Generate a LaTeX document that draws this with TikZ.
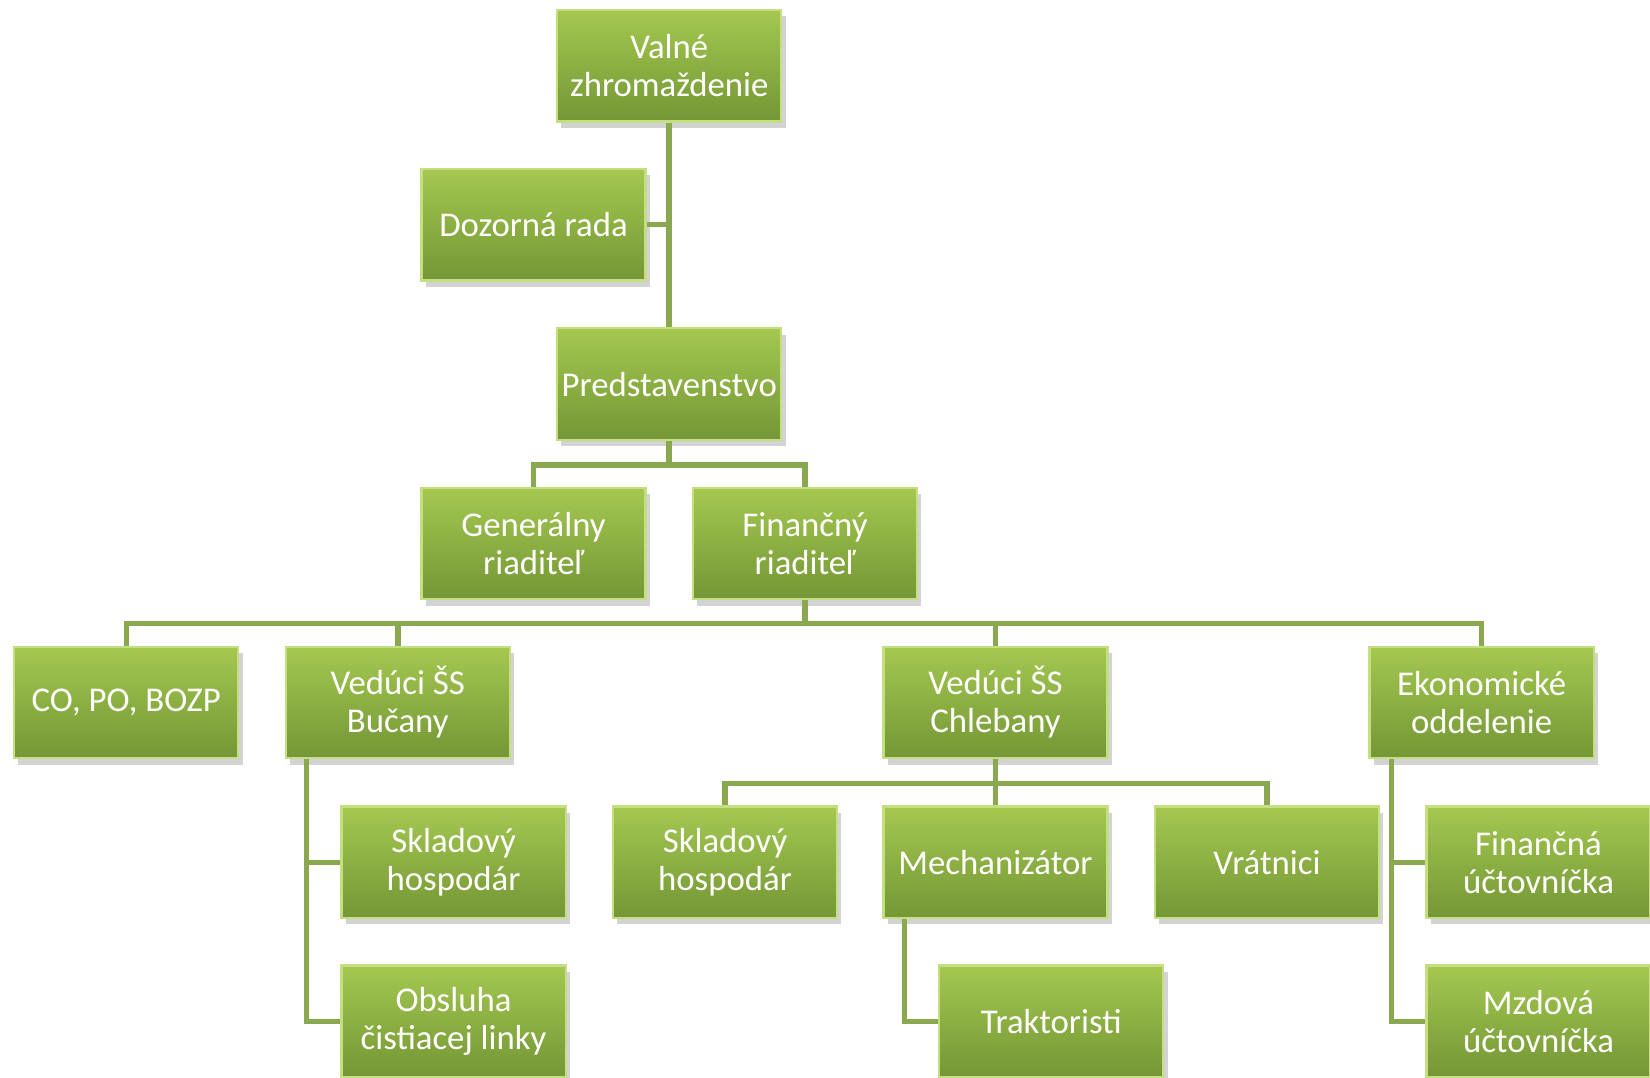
\documentclass[tikz,border=0pt]{standalone}
\usepackage{fontspec}
\setmainfont{Carlito}
\usepackage{tikz}
\usetikzlibrary{positioning, shadows}
\definecolor{boxtop}{RGB}{164,200,80}
\definecolor{boxbot}{RGB}{116,150,54}
\definecolor{boxedge}{RGB}{196,222,130}
\definecolor{linegreen}{RGB}{138,168,80}
\tikzset{%
	orgbox/.style={
		rectangle,
		top color=boxtop,
		bottom color=boxbot,
		draw=boxedge,
		line width=0.6pt,
		minimum width=2.13cm,
		minimum height=1.06cm,
		inner sep=1pt,
		align=center,
		text=white,
		font=\fontsize{9.4}{10.3}\selectfont,
		drop shadow={shadow xshift=0.4mm, shadow yshift=-0.6mm, opacity=0.35}
	},
	conn/.style={
		draw=linegreen,
		line width=1.5pt
	},
}
\begin{document}
\begin{tikzpicture}
			\useasboundingbox (0,0) rectangle (15.68,-10.24);
			
			% Top of the chart
			\node[orgbox] (vz) at (6.36,-0.625) {Valné\\zhromaždenie};
			\node[orgbox] (doz) at (5.07,-2.135) {Dozorná rada};
			\node[orgbox] (pred) at (6.36,-3.65) {Predstavenstvo};
			
			% Directors
			\node[orgbox] (gen) at (5.07,-5.165) {Generálny\\riaditeľ};
			\node[orgbox] (fin) at (7.65,-5.165) {Finančný\\riaditeľ};
			
			% Departments
			\node[orgbox] (co) at (1.20,-6.675) {CO, PO, BOZP};
			\node[orgbox] (buc) at (3.78,-6.675) {Vedúci ŠS\\Bučany};
			\node[orgbox] (chl) at (9.46,-6.675) {Vedúci ŠS\\Chlebany};
			\node[orgbox] (eko) at (14.08,-6.675) {Ekonomické\\oddelenie};
			
			% Staff
			\node[orgbox] (sklb) at (4.31,-8.195) {Skladový\\hospodár};
			\node[orgbox] (obs) at (4.31,-9.705) {Obsluha\\čistiacej linky};
			\node[orgbox] (sklc) at (6.89,-8.195) {Skladový\\hospodár};
			\node[orgbox] (mech) at (9.46,-8.195) {Mechanizátor};
			\node[orgbox] (vrat) at (12.04,-8.195) {Vrátnici};
			\node[orgbox] (trak) at (9.99,-9.705) {Traktoristi};
			\node[orgbox] (fuct) at (14.62,-8.195) {Finančná\\účtovníčka};
			\node[orgbox] (muct) at (14.62,-9.705) {Mzdová\\účtovníčka};
			
			% Connectors
			\draw[conn] (vz.south) -- (pred.north);
			\draw[conn] (doz.east) -- (doz.east -| vz.south);
			
			\draw[conn] (pred.south) -- ++(0,-0.23) coordinate (pj);
			\draw[conn] (pj) -| (gen.north);
			\draw[conn] (pj) -| (fin.north);
			
			\draw[conn] (fin.south) -- ++(0,-0.22) coordinate (fj);
			\draw[conn] (fj) -| (co.north);
			\draw[conn] (fj) -| (buc.north);
			\draw[conn] (fj) -| (chl.north);
			\draw[conn] (fj) -| (eko.north);
			
			\draw[conn] ([xshift=0.21cm]buc.south west) |- (sklb.west);
			\draw[conn] ([xshift=0.21cm]buc.south west) |- (obs.west);
			
			\draw[conn] (chl.south) -- ++(0,-0.23) coordinate (cj);
			\draw[conn] (cj) -| (sklc.north);
			\draw[conn] (cj) -- (mech.north);
			\draw[conn] (cj) -| (vrat.north);
			
			\draw[conn] ([xshift=0.21cm]mech.south west) |- (trak.west);
			
			\draw[conn] ([xshift=0.22cm]eko.south west) |- (fuct.west);
			\draw[conn] ([xshift=0.22cm]eko.south west) |- (muct.west);

		\end{tikzpicture}
\end{document}
